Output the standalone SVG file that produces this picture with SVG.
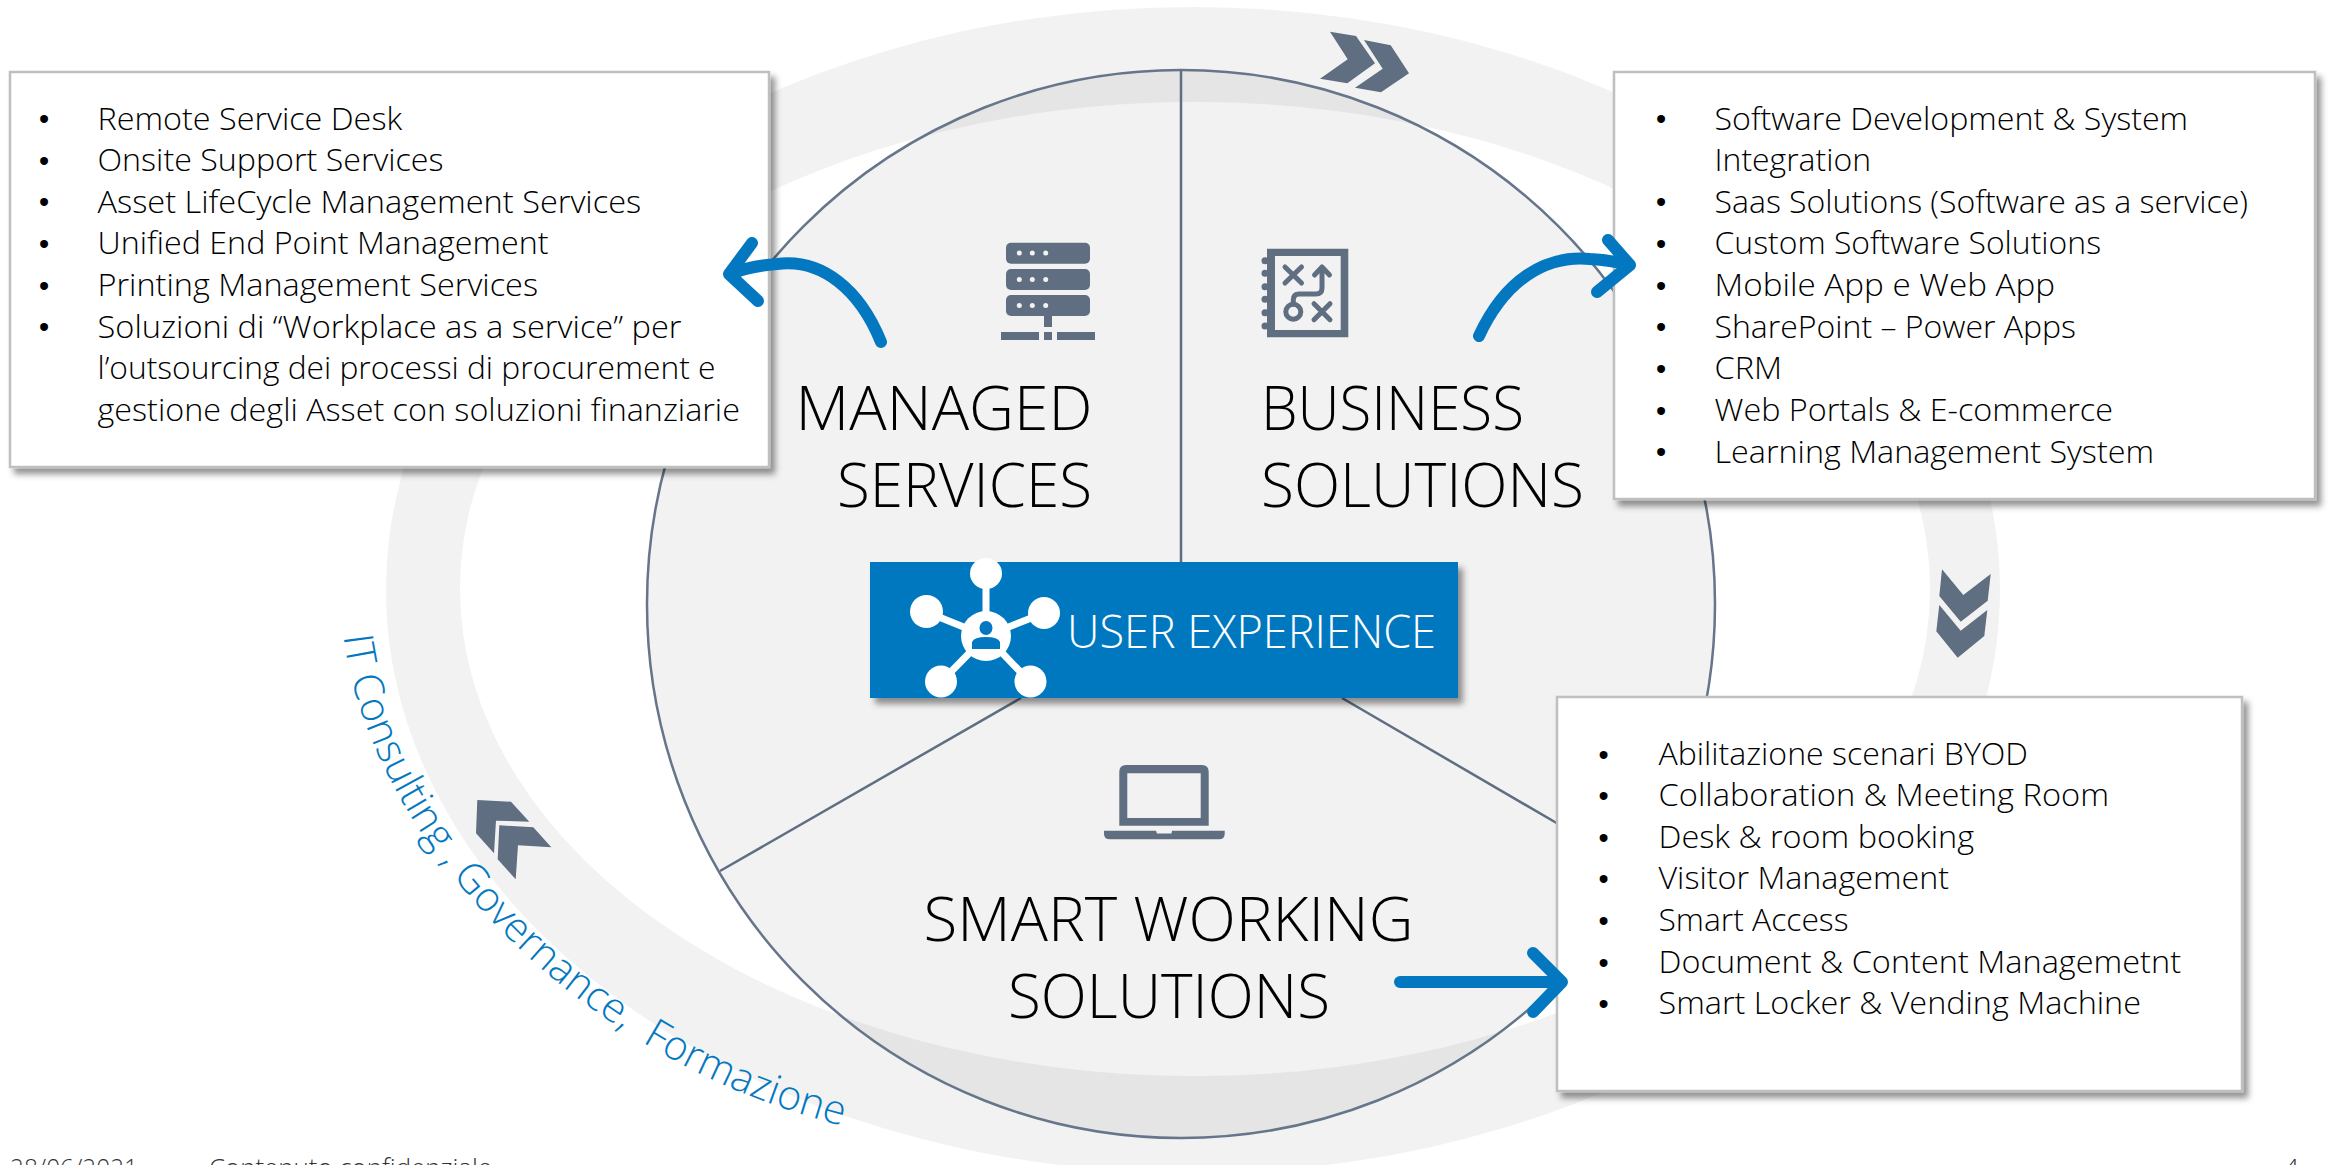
<svg xmlns="http://www.w3.org/2000/svg" xmlns:xlink="http://www.w3.org/1999/xlink" width="2328" height="1165" viewBox="0 0 2328 1165">
<style>
text{font-family:"Open Sans","Noto Sans","Liberation Sans",sans-serif;font-weight:300;fill:#000}
.b{font-size:32px}
.d{font-family:"Liberation Sans",sans-serif;font-size:29px;text-anchor:middle;font-weight:400}
.t{font-size:60px}
.box{fill:#fff;stroke:#bfbfbf;stroke-width:2.5;filter:url(#sh)}
.ic{fill:#5f6e80}
.is{fill:none;stroke:#5f6e80;stroke-width:5;stroke-linecap:round;stroke-linejoin:round}
.arrow{fill:none;stroke:#0378c0;stroke-width:12;stroke-linecap:round;stroke-linejoin:round}
.line{stroke:#5f6e80;stroke-width:2.5;fill:none}
.w{fill:#fff}
.ws{stroke:#fff;stroke-width:7;fill:none}
.f{font-size:26px;fill:#333}
</style>
<defs>
<filter id="sh" x="-5%" y="-5%" width="112%" height="115%"><feDropShadow dx="5" dy="6" stdDeviation="3" flood-color="#000" flood-opacity=".42"/></filter>
<path id="curve" d="M343 630C362 820 560 1062 860 1130L960 1150"/>
</defs>
<rect width="2328" height="1165" fill="#fff"/>
<g id="ring">
<path fill="#000" fill-opacity=".051" fill-rule="evenodd" d="M386 590A807 583 0 1 1 2000 590A807 583 0 1 1 386 590ZM460 589A735 487 0 1 0 1930 589A735 487 0 1 0 460 589Z"/>
</g>
<g id="hub-circle">
<circle cx="1181" cy="604" r="534" fill="#000" fill-opacity=".051"/>
<circle cx="1181" cy="604" r="534" fill="none" stroke="#66758a" stroke-width="2.5"/>
</g>
<g id="dividers">
<path class="line" d="M1181 71V562M1021 698L720 871M1342 698L1560 825"/>
</g>
<g id="chevrons">
<path class="ic" d="M1330 31.7L1356 36L1375 63.3L1347.3 83.3L1320 78.7L1347.7 59.3ZM1364 40L1390.7 45.3L1409 73.3L1381 92.3L1355 87.7L1382.7 68.7Z"/>
<path class="ic" d="M1942 569.3L1963.3 595L1990.7 574L1987.7 600.7L1960.7 621.7L1939.3 596ZM1939.3 605L1960.7 630.7L1987.3 610L1984.3 636L1957.7 657.7L1936.3 631.3Z"/>
<path class="ic" d="M477.3 800L511 801.7L529.3 821.7L496 820.7L494 853.3L476 833.3ZM499.3 825.3L533.3 827.3L551.3 847.3L518 845.3L515.7 879.3L497.7 859.3Z"/>
</g>
<g id="node-managed">
<g id="icon-server" class="ic">
<rect x="1006" y="242.7" width="84" height="21" rx="5"/><rect x="1006" y="269" width="84" height="21" rx="5"/><rect x="1006" y="295" width="84" height="21" rx="5"/>
<rect x="1044" y="316" width="8" height="11"/><rect x="1001" y="332" width="38" height="8"/><rect x="1044" y="332" width="8" height="8"/><rect x="1057" y="332" width="38" height="8"/>
</g>
<g fill="#f2f2f2"><circle cx="1019.3" cy="253" r="2.5"/><circle cx="1032.3" cy="253" r="2.5"/><circle cx="1045.7" cy="253" r="2.5"/><circle cx="1019.3" cy="279.5" r="2.5"/><circle cx="1032.3" cy="279.5" r="2.5"/><circle cx="1045.7" cy="279.5" r="2.5"/><circle cx="1019.3" cy="305.5" r="2.5"/><circle cx="1032.3" cy="305.5" r="2.5"/><circle cx="1045.7" cy="305.5" r="2.5"/></g>
<text class="t" x="795.5" y="430" textLength="297" lengthAdjust="spacingAndGlyphs">MANAGED</text>
<text class="t" x="837" y="507" textLength="255" lengthAdjust="spacingAndGlyphs">SERVICES</text>
</g>
<g id="node-business">
<g id="icon-map">
<path class="ic" fill-rule="evenodd" d="M1267 248.7H1348.3V337.3H1267ZM1275 256V330H1340.7V256Z"/>
<g class="ic"><circle cx="1265" cy="260.7" r="3.5"/><circle cx="1265" cy="273.3" r="3.5"/><circle cx="1265" cy="286.7" r="3.5"/><circle cx="1265" cy="299.3" r="3.5"/><circle cx="1265" cy="312.7" r="3.5"/><circle cx="1265" cy="326" r="3.5"/></g>
<path class="is" d="M1285 267L1301.5 283M1301.5 267L1285 283M1314 319.7L1330 303.7M1314 303.7L1330 319.7M1293.3 304V300Q1293.3 294 1299 294H1316Q1322 294 1322 288V268M1314.5 275L1322 267L1329.5 275"/>
<circle class="is" cx="1293.3" cy="311.7" r="7.5"/>
</g>
<text class="t" x="1261" y="430" textLength="263" lengthAdjust="spacingAndGlyphs">BUSINESS</text>
<text class="t" x="1261" y="507" textLength="323" lengthAdjust="spacingAndGlyphs">SOLUTIONS</text>
</g>
<g id="node-smart">
<g id="icon-laptop" class="ic">
<path fill-rule="evenodd" d="M1126 765H1202Q1208.7 765 1208.7 772V825.7H1119.3V772Q1119.3 765 1126 765ZM1127.3 773.3V818H1200.7V773.3Z"/>
<path d="M1104 830.7H1156L1157 833.5H1171.5L1172 830.7H1224.7V834Q1224.7 839.3 1219 839.3H1110Q1104 839.3 1104 834Z"/>
</g>
<text class="t" x="923.5" y="941" textLength="490" lengthAdjust="spacingAndGlyphs">SMART WORKING</text>
<text class="t" x="1008" y="1018" textLength="322" lengthAdjust="spacingAndGlyphs">SOLUTIONS</text>
</g>
<g id="node-user-experience">
<rect x="870" y="562" width="588" height="136" fill="#0378c0" filter="url(#sh)"/>
<g id="icon-hub">
<path class="ws" d="M986 573V636L926.5 612M986 636L1044 613M986 636L941 682M986 636L1030 682"/>
<ellipse class="w" cx="986" cy="573.5" rx="16" ry="15.5"/><ellipse class="w" cx="926.5" cy="611.5" rx="16.5" ry="16.5"/><ellipse class="w" cx="1044" cy="613" rx="16" ry="16"/><ellipse class="w" cx="941" cy="681.5" rx="16" ry="16"/><ellipse class="w" cx="1030.5" cy="681.5" rx="16" ry="16"/>
<ellipse class="w" cx="986" cy="636" rx="25" ry="25"/>
<ellipse cx="986" cy="628" rx="6.5" ry="7" fill="#0378c0"/>
<path d="M972 649V642Q974 637 986 637Q998 637 1000 642V649Z" fill="#0378c0"/>
</g>
<text x="1067" y="648" font-size="46" textLength="369" lengthAdjust="spacingAndGlyphs" style="fill:#fff">USER EXPERIENCE</text>
</g>
<g id="node-box-left">
<rect class="box" x="10" y="72" width="759" height="395"/>
<text class="d" x="44" y="129">•</text><text class="d" x="44" y="170.5">•</text><text class="d" x="44" y="212">•</text><text class="d" x="44" y="253.5">•</text><text class="d" x="44" y="295.5">•</text><text class="d" x="44" y="337">•</text>
<text class="b" x="97.5" y="129.5" textLength="304.6" lengthAdjust="spacingAndGlyphs">Remote Service Desk</text>
<text class="b" x="97.5" y="171" textLength="346" lengthAdjust="spacingAndGlyphs">Onsite Support Services</text>
<text class="b" x="97.5" y="212.5" textLength="543.7" lengthAdjust="spacingAndGlyphs">Asset LifeCycle Management Services</text>
<text class="b" x="97.5" y="254" textLength="451" lengthAdjust="spacingAndGlyphs">Unified End Point Management</text>
<text class="b" x="97.5" y="296" textLength="440.5" lengthAdjust="spacingAndGlyphs">Printing Management Services</text>
<text class="b" x="97.5" y="337.5" textLength="584" lengthAdjust="spacingAndGlyphs">Soluzioni di “Workplace as a service” per</text>
<text class="b" x="97.5" y="379" textLength="618" lengthAdjust="spacingAndGlyphs">l’outsourcing dei processi di procurement e</text>
<text class="b" x="97.5" y="421" textLength="642.4" lengthAdjust="spacingAndGlyphs">gestione degli Asset con soluzioni finanziarie</text>
</g>
<g id="node-box-right">
<rect class="box" x="1614" y="72" width="701" height="427"/>
<text class="d" x="1661" y="129">•</text><text class="d" x="1661" y="212">•</text><text class="d" x="1661" y="253.5">•</text><text class="d" x="1661" y="295.5">•</text><text class="d" x="1661" y="337">•</text><text class="d" x="1661" y="378.5">•</text><text class="d" x="1661" y="420.5">•</text><text class="d" x="1661" y="462">•</text>
<text class="b" x="1714.5" y="129.5" textLength="473.5" lengthAdjust="spacingAndGlyphs">Software Development &amp; System</text>
<text class="b" x="1714.5" y="171" textLength="156.5" lengthAdjust="spacingAndGlyphs">Integration</text>
<text class="b" x="1714.5" y="212.5" textLength="533.5" lengthAdjust="spacingAndGlyphs">Saas Solutions (Software as a service)</text>
<text class="b" x="1714.5" y="254" textLength="386.5" lengthAdjust="spacingAndGlyphs">Custom Software Solutions</text>
<text class="b" x="1714.5" y="296" textLength="340.5" lengthAdjust="spacingAndGlyphs">Mobile App e Web App</text>
<text class="b" x="1714.5" y="337.5" textLength="361.5" lengthAdjust="spacingAndGlyphs">SharePoint – Power Apps</text>
<text class="b" x="1714.5" y="379" textLength="67.5" lengthAdjust="spacingAndGlyphs">CRM</text>
<text class="b" x="1714.5" y="421" textLength="398.5" lengthAdjust="spacingAndGlyphs">Web Portals &amp; E-commerce</text>
<text class="b" x="1714.5" y="462.5" textLength="439.5" lengthAdjust="spacingAndGlyphs">Learning Management System</text>
</g>
<g id="node-box-bottom">
<rect class="box" x="1557" y="697" width="685" height="394"/>
<text class="d" x="1603.5" y="764.5">•</text><text class="d" x="1603.5" y="806">•</text><text class="d" x="1603.5" y="847.5">•</text><text class="d" x="1603.5" y="889">•</text><text class="d" x="1603.5" y="931">•</text><text class="d" x="1603.5" y="972.5">•</text><text class="d" x="1603.5" y="1014">•</text>
<text class="b" x="1658.5" y="764.5" textLength="369.5" lengthAdjust="spacingAndGlyphs">Abilitazione scenari BYOD</text>
<text class="b" x="1658.5" y="806" textLength="450.5" lengthAdjust="spacingAndGlyphs">Collaboration &amp; Meeting Room</text>
<text class="b" x="1658.5" y="847.5" textLength="315.5" lengthAdjust="spacingAndGlyphs">Desk &amp; room booking</text>
<text class="b" x="1658.5" y="889" textLength="290.5" lengthAdjust="spacingAndGlyphs">Visitor Management</text>
<text class="b" x="1658.5" y="931" textLength="190" lengthAdjust="spacingAndGlyphs">Smart Access</text>
<text class="b" x="1658.5" y="972.5" textLength="522.5" lengthAdjust="spacingAndGlyphs">Document &amp; Content Managemetnt</text>
<text class="b" x="1658.5" y="1014" textLength="482.5" lengthAdjust="spacingAndGlyphs">Smart Locker &amp; Vending Machine</text>
</g>
<g id="connectors">
<path class="arrow" d="M881 342C860 290 822 258 777 264Q750 266 730 274M752 243L729 274L758 301"/>
<path class="arrow" d="M1479 336C1505 280 1545 255 1590 259Q1610 260 1630 265M1608 240L1630 265L1597 292"/>
<path class="arrow" d="M1400 982H1560M1533 953L1562 982L1533 1012"/>
</g>
<g id="label-curved">
<text font-size="41" style="fill:#0378c0"><textPath xlink:href="#curve" href="#curve" startOffset="6">IT Consulting </textPath><textPath xlink:href="#curve" href="#curve" startOffset="253">, </textPath><textPath xlink:href="#curve" href="#curve" startOffset="272">Governance, </textPath><textPath xlink:href="#curve" href="#curve" startOffset="526">Formazione</textPath></text>
</g>
<g id="footer">
<text class="f" x="10" y="1177" textLength="128" lengthAdjust="spacingAndGlyphs">28/06/2021</text>
<text class="f" x="209" y="1177" textLength="283" lengthAdjust="spacingAndGlyphs">Contenuto confidenziale</text>
<text class="f" x="2299" y="1177" text-anchor="end">4</text>
</g>
</svg>
